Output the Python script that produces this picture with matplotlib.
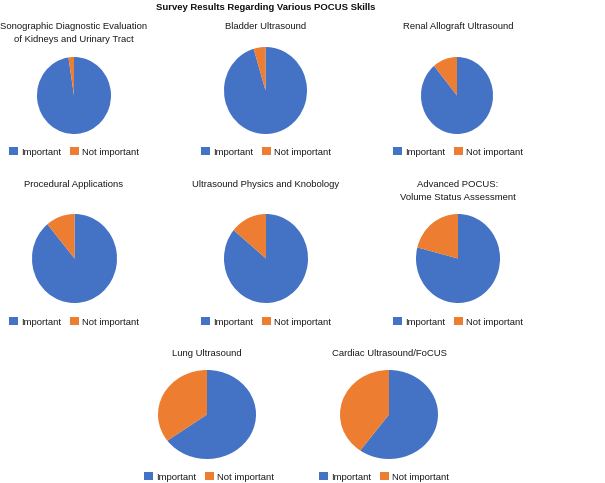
import matplotlib
matplotlib.use("Agg")
import matplotlib.pyplot as plt
from matplotlib.patches import Patch

plt.rcParams['font.family'] = ['Liberation Sans', 'DejaVu Sans']

categories = ["Important", "Not important"]
skills = [
    "Sonographic Diagnostic Evaluation\nof Kidneys and Urinary Tract",
    "Bladder Ultrasound",
    "Renal Allograft Ultrasound",
    "Procedural Applications",
    "Ultrasound Physics and Knobology",
    "Advanced POCUS:\nVolume Status Assessment",
    "Lung Ultrasound",
    "Cardiac Ultrasound/FoCUS",
]
important = [97.6, 95.4, 89, 89, 86, 79, 65, 60]
not_important = [2.4, 4.6, 11, 11, 14, 21, 35, 40]
colors = ["#4472C4", "#ED7D31"]

W, H = 605, 483
fig = plt.figure(figsize=(W / 100, H / 100), dpi=100)

# layout in pixels: pie box (x0, x1, y0, y1), title top y, legend center (x, y)
pie_boxes = [
    (37, 111, 57, 134), (224, 307, 47, 134), (421, 493, 57, 134),
    (32, 117, 214, 303), (224, 308, 214, 303), (416, 500, 214, 303),
    (158, 256, 370, 459), (340, 438, 370, 459),
]
title_pos = [
    (74, 22), (266, 22), (458, 22),
    (74, 180), (266, 180), (458, 180),
    (207, 349), (389, 349),
]
legend_pos = [
    (74, 152), (266, 152), (458, 152),
    (74, 322), (266, 322), (458, 322),
    (209, 477), (384, 477),
]

fs = 6.8
for i, name in enumerate(skills):
    x0, x1, y0, y1 = pie_boxes[i]
    ax = fig.add_axes([x0 / W, 1 - y1 / H, (x1 - x0) / W, (y1 - y0) / H])
    ax.pie([important[i], not_important[i]], colors=colors, startangle=90,
           counterclock=False, wedgeprops=dict(linewidth=0))
    ax.set_aspect('auto')
    ax.set_xlim(-1, 1)
    ax.set_ylim(-1, 1)
    ax.axis('off')
    tx, ty = title_pos[i]
    fig.text(tx / W, 1 - ty / H, name, ha='center', va='top', fontsize=fs,
             linespacing=1.6, color='#1a1a1a')
    lx, ly = legend_pos[i]
    handles = [Patch(facecolor=c, edgecolor='none') for c in colors]
    fig.legend(handles, categories, loc='center', ncol=2,
               bbox_to_anchor=(lx / W, 1 - ly / H), bbox_transform=fig.transFigure,
               frameon=False, fontsize=fs, handlelength=0.95, handleheight=0.95,
               handletextpad=0.3, columnspacing=1.0, borderpad=0, labelcolor='#1a1a1a')

fig.text(266 / W, 1 - 7 / H, "Survey Results Regarding Various POCUS Skills",
         ha='center', va='center', fontsize=fs, fontweight='bold', color='#111111')

fig.savefig("out.png", dpi=100)
